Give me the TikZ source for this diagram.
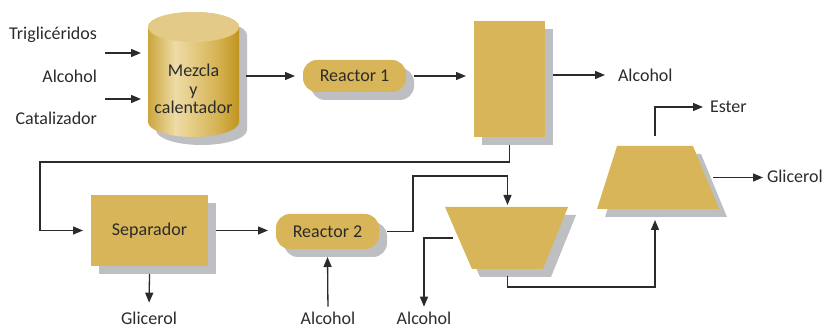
\documentclass[tikz,border=0pt]{standalone}
\usepackage{fontspec}
\setmainfont{Carlito}
\usepackage{xcolor}
\usetikzlibrary{arrows.meta,positioning,shapes.geometric,shadows,calc}

\definecolor{gold}{HTML}{D7B558}
\definecolor{shadowgray}{HTML}{BEBFC3}
\definecolor{ink}{HTML}{2B2B2B}
\definecolor{drumlight}{HTML}{EEDCA6}
\definecolor{drumedge}{HTML}{CBA63E}
\definecolor{drumdeep}{HTML}{C0951F}
\definecolor{drumtop}{HTML}{E3CA86}
\pgfdeclarehorizontalshading{drum}{100bp}{color(0bp)=(drumedge); color(25bp)=(drumedge);
    color(40bp)=(drumlight); color(62bp)=(gold); color(75bp)=(drumdeep); color(100bp)=(drumdeep)}

\begin{document}
\begin{tikzpicture}[
        x=1pt, y=-1pt,
        font=\fontsize{18}{18.5}\selectfont,
        text=ink,
        box/.style={
            fill=gold, inner sep=0pt, outer sep=8pt,
            general shadow={fill=shadowgray, shadow xshift=8pt, shadow yshift=-8pt}
        },
        reactor/.style={box, rounded corners=14pt},
        trap/.style={
            trapezium, fill=gold,
            inner sep=0pt, outer sep=0pt, text depth=0pt,
            general shadow={fill=shadowgray, shadow xshift=8pt, shadow yshift=-8pt}
        },
        tag/.style={inner sep=0pt, outer sep=0pt},
        arrow/.style={-{Triangle[length=10pt,width=8pt]}, line width=1.3pt, draw=ink}
    ]
    \useasboundingbox (0,0) rectangle (824,328);

    % Mixer drum
    \fill[shadowgray] (156,35) -- (156,130) arc[start angle=180,end angle=360,x radius=45.5pt,y radius=15pt]
        -- (247,35) arc[start angle=0,end angle=180,x radius=45.5pt,y radius=15pt] -- cycle;
    \shade[shading=drum] (148,27) -- (148,122) arc[start angle=180,end angle=360,x radius=45.5pt,y radius=15pt]
        -- (239,27) arc[start angle=0,end angle=180,x radius=45.5pt,y radius=15pt] -- cycle;
    \fill[drumtop] (193.5,27) ellipse[x radius=45.5pt, y radius=15pt];
    \node[align=center, minimum width=91pt, inner sep=0pt, outer sep=7pt] (mix) at (193.5,89) {Mezcla\\y\\calentador};

    % Units
    \node[reactor, minimum width=103pt, minimum height=32pt] (r1) at (354.5,76) {Reactor 1};
    \node[box, minimum width=71pt, minimum height=116pt] (col) at (509.5,79) {};
    \node[box, minimum width=117pt, minimum height=71pt] (sep) at (149.5,230.5) {Separador};
    \node[reactor, minimum width=103pt, minimum height=35pt] (r2) at (327.5,231.5) {Reactor 2};
    \node[trap, trapezium left angle=113.5, trapezium right angle=112,
        text width=71pt, text height=62pt] (ltrap) at (507.5,238) {};
    \node[trap, trapezium left angle=72.4, trapezium right angle=67.6,
        text width=76pt, text height=63pt] (utrap) at (655,177.5) {};

    % Streams in and out
    \node[tag, anchor=east] (trig) at (97,35) {Triglicéridos};
    \node[tag, anchor=east] (alcA) at (97,76) {Alcohol};
    \node[tag, anchor=east] (cat) at (97,118) {Catalizador};
    \node[tag, anchor=west] (alcB) at (618,75) {Alcohol};
    \node[tag] (glicB) at (149,318) {Glicerol};
    \node[tag] (alcC) at (328,318) {Alcohol};
    \node[tag] (alcD) at (424,318) {Alcohol};
    \node[tag, anchor=west] (ester) at (710,107) {Ester};
    \node[tag, anchor=west] (glicR) at (767,176) {Glicerol};

    \coordinate (feedA) at (105,53);
    \coordinate (feedB) at (105,99);
    \coordinate (back) at (40,162);
    \coordinate (riser) at (413,176);

    % Arrows
    \draw[arrow] (feedA) -- (feedA -| mix.west);
    \draw[arrow] (feedB) -- (feedB -| mix.west);
    \draw[arrow] (mix.east |- r1.west) -- (r1.west);
    \draw[arrow] (r1.east) -- (r1.east -| col.west);
    \draw[arrow, shorten >=13pt] (col.east |- alcB) -- (alcB.west);
    \draw[arrow] (col.south) |- (back) |- (sep.west);
    \draw[arrow, shorten >=9pt] (sep.south) -- (glicB.north);
    \draw[arrow] (sep.east) -- (sep.east -| r2.west);
    \draw[arrow, shorten <=5pt] (alcC.north) -- (r2.south);
    \draw[arrow, shorten >=2pt] (r2.east) -| (riser) -| (ltrap.north);
    \draw[arrow, shorten <=6pt, shorten >=5pt] (ltrap.west) -| (alcD.north);
    \draw[arrow, shorten <=7pt, shorten >=11pt] (ltrap.south) -- ++(0,18) -| (utrap.south);
    \draw[arrow, shorten <=10pt, shorten >=7pt] (utrap.north) |- (ester.west);
    \draw[arrow, shorten <=7pt, shorten >=4pt] (utrap.east) -- (utrap.east -| glicR.west);
\end{tikzpicture}
\end{document}
